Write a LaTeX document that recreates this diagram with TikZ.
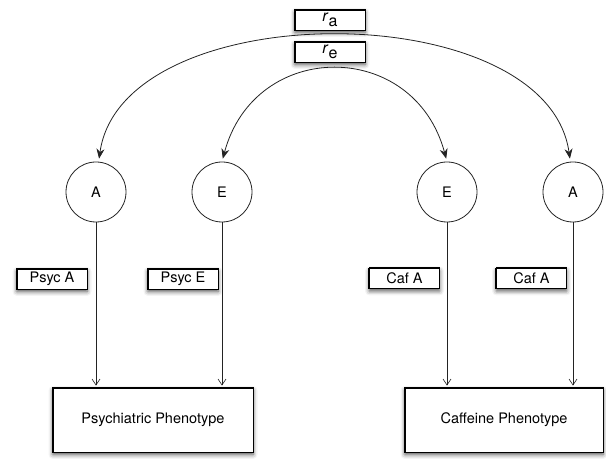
\documentclass[tikz,border=0pt]{standalone}
\usepackage{fontspec}
\setmainfont{TeX Gyre Heros}
\usetikzlibrary{arrows.meta,shadows.blur}

\begin{document}
\begin{tikzpicture}[x=1pt, y=1pt,
        font=\fontsize{14.5}{16}\selectfont,
        var/.style={draw=lineclr, line width=0.8pt, circle, minimum size=60pt, inner sep=0pt},
        lbl/.style={draw=black, line width=0.9pt, fill=white, minimum width=70pt, minimum height=20pt, inner sep=0pt,
            blur shadow={shadow xshift=0pt, shadow yshift=-2.5pt, shadow blur radius=4.5pt, shadow opacity=70},
            append after command={(\tikzlastnode.south west) edge[topleft] (\tikzlastnode.north west)
                (\tikzlastnode.north west) edge[topleft] (\tikzlastnode.north east)}},
        topleft/.style={draw=black, line width=1.8pt, line cap=rect, shorten <=0.45pt, shorten >=0.45pt},
        pheno/.style={lbl, minimum height=64pt},
        cov/.style={draw=lineclr, line width=0.8pt, {Stealth[length=10pt,width=8pt]}-{Stealth[length=10pt,width=8pt]},
            shorten <=3pt, shorten >=3pt},
        load/.style={draw=lineclr, line width=0.6pt, -{Straight Barb[length=6pt,width=8pt]}, shorten >=2pt}]
            \definecolor{lineclr}{RGB}{35, 35, 35}

            \useasboundingbox (0,0) rectangle (606,460);

            % phenotypes
            \node[pheno, minimum width=200pt] (psych) at (153,40) {Psychiatric Phenotype};
            \node[pheno, minimum width=198pt] (caf) at (504,40) {Caffeine Phenotype};

            % latent factors
            \node[var] (aPsyc) at (96,268) {A};
            \node[var] (ePsyc) at (222,268) {E};
            \node[var] (eCaf) at (447,268) {E};
            \node[var] (aCaf) at (573,268) {A};

            \draw[load] (aPsyc) -- (aPsyc |- psych.north);
            \draw[load] (ePsyc) -- (ePsyc |- psych.north);
            \draw[load] (eCaf) -- (eCaf |- caf.north);
            \draw[load] (aCaf) -- (aCaf |- caf.north);

            \node[lbl] (psycAlbl) at (52,181) {Psyc A};
            \node[lbl] (psycElbl) at (183,181) {Psyc E};
            \node[lbl] (cafElbl) at (404.5,181.5) {Caf A};
            \node[lbl] (cafAlbl) at (531.5,181.5) {Caf A};

            % correlations
            \draw[cov] (aPsyc.85) to[out=82, in=98, looseness=0.92] (aCaf.95);
            \draw[cov] (ePsyc.90) to[out=75, in=105, looseness=1.45] (eCaf.90);

            \node[lbl] (ra) at (330,440) {\fontsize{16}{16}\selectfont\textit{r}\raisebox{-5pt}{a}};
            \node[lbl] (re) at (330,408) {\fontsize{16}{16}\selectfont\textit{r}\raisebox{-5pt}{e}};
\end{tikzpicture}
\end{document}
